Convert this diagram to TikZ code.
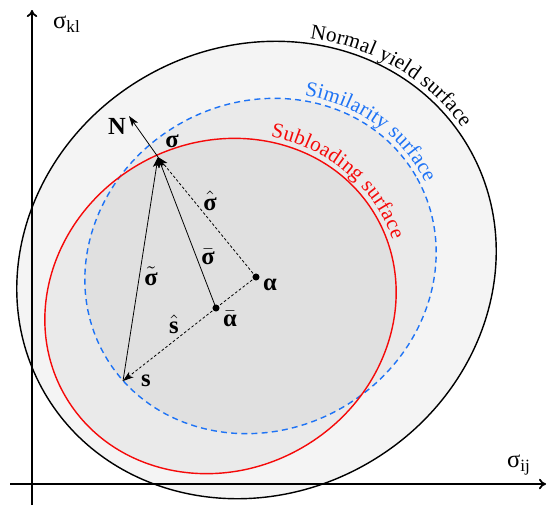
\documentclass[tikz,border=0pt]{standalone}
\usepackage{fontspec}
\usepackage{amsmath}
\setmainfont{Liberation Serif}
\usetikzlibrary{arrows.meta,decorations.text}

\definecolor{simblue}{RGB}{30,115,245}
\definecolor{subred}{RGB}{245,10,10}

\tikzset{
  axis/.style={line width=1pt,-{To[length=4pt,width=6pt]}},
  vec/.style={line width=0.45pt,-{Stealth[length=6pt,width=4pt,inset=1.5pt]}},
  dotvec/.style={line width=0.45pt,dash pattern=on 1.5pt off 1.2pt,-{Stealth[length=6pt,width=4pt,inset=1.5pt]}},
  dotline/.style={line width=0.45pt,dash pattern=on 1.5pt off 1.2pt},
  lbl/.style={font=\fontsize{14}{16}\selectfont},
  pt/.style={circle,fill=black,inner sep=0pt,minimum size=4pt},
  shade/.style={fill=black,fill opacity=0.04}
}

\newcommand{\bv}[1]{\textbf{#1}}
\newcommand{\curvefont}{\fontsize{12}{14}\selectfont}

\begin{document}
\begin{tikzpicture}[x=0.02cm,y=0.02cm]
    \useasboundingbox (0,0) rectangle (547,505);

    \coordinate (nys) at (256.5,235);
    \coordinate (sim) at (260.5,239);
    \coordinate (sub) at (220.5,199);

    \coordinate (sig) at (158,348);
    \coordinate (Ntip) at (129,389);
    \coordinate (alp) at (256,228);
    \coordinate (alpb) at (216,197);
    \coordinate (s) at (123,124);

    \fill[black!4.5] (nys) ellipse[x radius=245,y radius=223,rotate=30];
    \fill[shade] (sim) ellipse[x radius=179.5,y radius=163.5,rotate=30];
    \fill[shade] (sub) ellipse[x radius=179.5,y radius=163.5,rotate=30];

    \draw[line width=0.8pt] (nys) ellipse[x radius=245,y radius=223,rotate=30];
    \draw[simblue,line width=0.8pt,dash pattern=on 3.4pt off 2.4pt] (sim) ellipse[x radius=179.5,y radius=163.5,rotate=30];
    \draw[subred,line width=0.8pt] (sub) ellipse[x radius=179.5,y radius=163.5,rotate=30];

    \begin{scope}[shift={(nys)},rotate=30]
        \path[decorate,decoration={text along path,text align=center,raise=3pt,
            text={|\curvefont|Normal yield surface}}]
            (59:245 and 223) arc[start angle=59,end angle=-5,x radius=245,y radius=223];
    \end{scope}
    \begin{scope}[shift={(sim)},rotate=30]
        \path[decorate,decoration={text along path,text align=center,raise=3pt,
            text={|\curvefont\color{simblue}|Similarity surface}}]
            (55:179.5 and 163.5) arc[start angle=55,end angle=-11,x radius=179.5,y radius=163.5];
    \end{scope}
    \begin{scope}[shift={(sub)},rotate=30]
        \path[decorate,decoration={text along path,text align=center,raise=3pt,
            text={|\curvefont\color{subred}|Subloading surface}}]
            (50:179.5 and 163.5) arc[start angle=50,end angle=-14,x radius=179.5,y radius=163.5];
    \end{scope}

    \coordinate (ybot) at (32,0);
    \coordinate (ytop) at (32,495);
    \coordinate (xlft) at (10,21);
    \coordinate (xrgt) at (546,21);
    \draw[axis] (ybot) -- (ytop);
    \draw[axis] (xlft) -- (xrgt);
    \node[lbl] (skl) at (67,481) {σ\textsubscript{kl}};
    \node[lbl] (sij) at (519,40) {σ\textsubscript{ij}};

    \draw[vec] (s) -- (sig);
    \draw[vec] (alpb) -- (sig);
    \draw[vec] (sig) -- (Ntip);
    \draw[dotvec] (alp) -- (sig);
    \draw[dotline] (alp) -- (alpb);
    \draw[dotvec] (alpb) -- (s);

    \node[pt] (palp) at (alp) {};
    \node[pt] (palpb) at (alpb) {};

    \node[lbl] (lsig) at (172,364) {\bv{σ}};
    \node[lbl] (lN) at (117,379) {\bv{N}};
    \node[lbl] (lsighat) at (210,304) {$\hat{\text{\bv{σ}}}$};
    \node[lbl] (lsigbar) at (208,248) {$\bar{\text{\bv{σ}}}$};
    \node[lbl] (lsigtil) at (151,229) {$\tilde{\text{\bv{σ}}}$};
    \node[lbl] (lshat) at (174,181) {$\hat{\text{\bv{s}}}$};
    \node[lbl] (lalpb) at (230,186) {$\bar{\text{\bv{α}}}$};
    \node[lbl] (lalp) at (270,220) {\bv{α}};
    \node[lbl] (ls) at (146,124) {\bv{s}};
\end{tikzpicture}
\end{document}
